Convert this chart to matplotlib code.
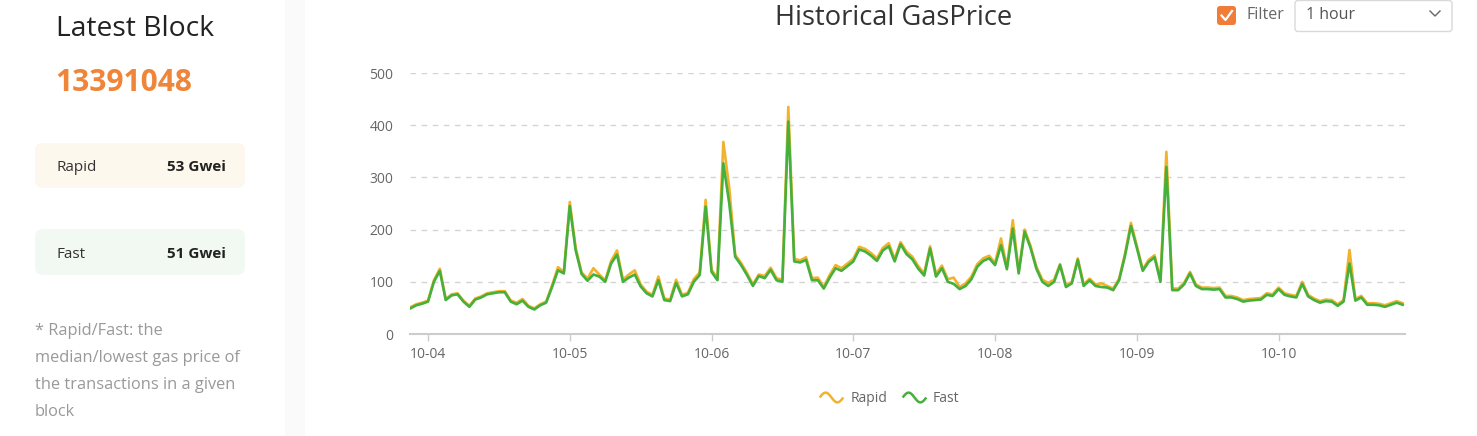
import matplotlib
matplotlib.use("Agg")
import matplotlib.pyplot as plt
import numpy as np
from matplotlib.patches import FancyBboxPatch, Rectangle
from matplotlib.lines import Line2D
from matplotlib.path import Path

plt.rcParams['font.family'] = ['Open Sans', 'DejaVu Sans']

# Dados: preço do gás por hora (Gwei), a partir de 10-03 21:00
start_hour = -3  # horas em relação a 10-04 00:00
fast = [49, 55, 58, 62, 100, 121, 65, 74, 76, 62, 52, 66,
        70, 76, 78, 80, 80, 62, 57, 64, 52, 47, 55, 60,
        90, 122, 116, 245, 160, 115, 102, 114, 110, 100, 135, 152,
        100, 108, 114, 91, 78, 72, 103, 65, 63, 98, 72, 76,
        100, 113, 244, 119, 103, 327, 250, 148, 132, 113, 92, 111,
        107, 123, 103, 100, 407, 139, 137, 142, 103, 103, 87, 108,
        126, 121, 130, 139, 162, 158, 150, 140, 160, 168, 139, 172,
        153, 143, 125, 112, 164, 110, 126, 100, 96, 86, 92, 105,
        129, 140, 145, 132, 170, 124, 202, 116, 196, 165, 125, 100,
        92, 100, 132, 90, 97, 142, 92, 103, 92, 90, 89, 84,
        103, 150, 207, 165, 121, 138, 147, 100, 320, 84, 84, 95,
        116, 92, 86, 86, 85, 86, 70, 70, 67, 62, 64, 65,
        66, 75, 73, 86, 75, 72, 70, 96, 72, 65, 60, 63,
        62, 54, 62, 135, 64, 70, 56, 56, 55, 52, 56, 60,
        56]
rapid = [51, 57, 60, 64, 103, 125, 67, 76, 78, 64, 54, 68,
         72, 78, 80, 82, 82, 64, 60, 67, 54, 49, 57, 62,
         93, 128, 119, 253, 165, 118, 106, 126, 114, 103, 140, 160,
         104, 114, 122, 95, 81, 75, 110, 68, 66, 104, 75, 79,
         105, 118, 257, 123, 107, 368, 280, 152, 136, 117, 95, 114,
         111, 127, 107, 104, 435, 144, 141, 147, 107, 108, 90, 113,
         132, 126, 135, 144, 167, 163, 155, 145, 165, 174, 144, 176,
         158, 148, 130, 116, 168, 115, 131, 105, 108, 90, 97, 110,
         134, 145, 150, 136, 183, 128, 218, 120, 200, 169, 129, 104,
         98, 104, 134, 93, 100, 145, 95, 106, 95, 97, 92, 87,
         106, 154, 213, 169, 124, 142, 151, 104, 349, 87, 87, 98,
         119, 95, 89, 89, 88, 89, 73, 73, 70, 65, 67, 68,
         69, 78, 76, 89, 78, 75, 73, 100, 75, 68, 63, 66,
         65, 57, 65, 161, 67, 73, 59, 59, 58, 55, 59, 63,
         59]
dias = ["10-04", "10-05", "10-06", "10-07", "10-08", "10-09", "10-10"]
y_ticks = [0, 100, 200, 300, 400, 500]

latest_block = "13391048"
rapid_now = 53
fast_now = 51

horas = np.arange(len(fast)) + start_hour
dia_pos = np.arange(len(dias)) * 24

cor_rapid = '#f3b22c'
cor_fast = '#45b03c'

W, H = 1477, 436
fig = plt.figure(figsize=(W / 100, H / 100), dpi=100)

# fundo em coordenadas de pixel
bg = fig.add_axes([0, 0, 1, 1])
bg.set_xlim(0, W)
bg.set_ylim(H, 0)
bg.axis('off')

bg.add_patch(Rectangle((285, 0), 20, H, color='#fafafa', lw=0))

# painel esquerdo
bg.text(56, 29, "Latest Block", fontsize=20.3, color='#222222', va='center')
bg.text(55, 83, latest_block, fontsize=21.5, fontweight='bold', color='#f0853a', va='center')

bg.add_patch(FancyBboxPatch((35, 143), 210, 45, boxstyle="round,pad=0,rounding_size=8",
                            fc='#fdf8ed', ec='none'))
bg.text(56, 167, "Rapid", fontsize=11, color='#333333', va='center')
bg.text(226, 167, f"{rapid_now} Gwei", fontsize=11, fontweight='bold', color='#222222',
        va='center', ha='right')

bg.add_patch(FancyBboxPatch((35, 229), 210, 46, boxstyle="round,pad=0,rounding_size=8",
                            fc='#f2f9f2', ec='none'))
bg.text(56, 254, "Fast", fontsize=11, color='#333333', va='center')
bg.text(226, 254, f"{fast_now} Gwei", fontsize=11, fontweight='bold', color='#222222',
        va='center', ha='right')

nota = ["* Rapid/Fast: the", "median/lowest gas price of",
        "the transactions in a given", "block"]
for i, linha in enumerate(nota):
    bg.text(35, 331 + i * 27, linha, fontsize=11.8, color='#999999', va='center')

# título e filtro
bg.text(894, 18, "Historical GasPrice", fontsize=19.6, color='#333333', va='center', ha='center')

bg.add_patch(FancyBboxPatch((1217, 6), 19, 19, boxstyle="round,pad=0,rounding_size=3",
                            fc='#f07c3a', ec='none'))
bg.add_line(Line2D([1221.5, 1225.5, 1232], [15.5, 20, 11], color='white', lw=1.6))
bg.text(1247, 15, "Filter", fontsize=11.5, color='#666666', va='center')
bg.add_patch(FancyBboxPatch((1295, 0.5), 157, 31, boxstyle="round,pad=0,rounding_size=3",
                            fc='white', ec='#d9d9d9', lw=1))
bg.text(1306, 15, "1 hour", fontsize=11.5, color='#555555', va='center')
bg.add_line(Line2D([1430, 1435, 1440], [11, 16, 11], color='#666666', lw=1))

# gráfico
ax = fig.add_axes([410 / W, 1 - 334 / H, (1405 - 410) / W, (334 - 73) / H])
ax.set_facecolor('none')

ax.plot(horas, rapid, color=cor_rapid, lw=1.9, solid_joinstyle='round', label="Rapid", zorder=3)
ax.plot(horas, fast, color=cor_fast, lw=1.9, solid_joinstyle='round', label="Fast", zorder=4)

ax.set_xlim(-3.05, 165.4)
ax.set_ylim(0, 500)
ax.set_xticks(dia_pos)
ax.set_xticklabels(dias)
ax.set_yticks(y_ticks)

for v in y_ticks[1:]:
    ax.axhline(v, color='#d4d4d4', lw=1, ls=(0, (4, 4)), zorder=1)

for s in ['top', 'right', 'left']:
    ax.spines[s].set_visible(False)
ax.spines['bottom'].set_color('#cccccc')
ax.spines['bottom'].set_linewidth(1.5)
ax.tick_params(axis='x', colors='#cccccc', length=5, width=1, labelsize=10,
               labelcolor='#666666', pad=4)
ax.tick_params(axis='y', length=0, labelsize=10, labelcolor='#666666', pad=12)

# legenda com ícone ondulado
t = np.linspace(-np.pi, np.pi, 40)
onda = Path(np.column_stack([t, -1.3 * np.sin(t)]))
handles = [Line2D([], [], color=cor_rapid, marker=onda, markersize=17, linestyle='none',
                  mfc='none', mew=1.8),
           Line2D([], [], color=cor_fast, marker=onda, markersize=17, linestyle='none',
                  mfc='none', mew=1.8)]
leg = ax.legend(handles, ["Rapid", "Fast"], loc='center', bbox_to_anchor=(891 / W, 1 - 398 / H),
                bbox_transform=fig.transFigure, ncol=2, frameon=False, fontsize=10,
                handlelength=1.3, handletextpad=0.7, columnspacing=1.3)
for txt in leg.get_texts():
    txt.set_color('#666666')

fig.savefig("out.png", dpi=100)
